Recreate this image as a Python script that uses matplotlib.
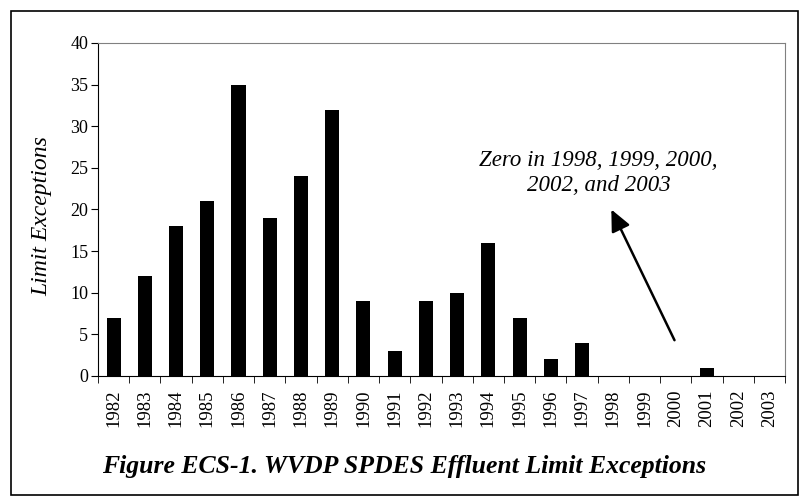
import numpy as np
import matplotlib
matplotlib.use("Agg")
import matplotlib.pyplot as plt
from matplotlib.patches import Rectangle

years = ['1982', '1983', '1984', '1985', '1986', '1987', '1988', '1989', '1990', '1991', '1992',
         '1993', '1994', '1995', '1996', '1997', '1998', '1999', '2000', '2001', '2002', '2003']
exceptions = [7, 12, 18, 21, 35, 19, 24, 32, 9, 3, 9, 10, 16, 7, 2, 4, 0, 0, 0, 1, 0, 0]
yticks = [0, 5, 10, 15, 20, 25, 30, 35, 40]

plt.rcParams['font.family'] = ['Liberation Serif', 'DejaVu Serif']

fig = plt.figure(figsize=(8.09, 5.04), dpi=100)
ax = fig.add_axes([98 / 809, 1 - 376 / 504, 687 / 809, 333 / 504])

x = np.arange(len(years))
ax.bar(x, exceptions, width=0.45, color='black')

ax.set_xlim(-0.5, len(years) - 0.5)
ax.set_ylim(0, 40)
ax.set_yticks(yticks)
ax.set_yticklabels([str(t) for t in yticks], fontsize=13)
# category labels at centers, tick marks between categories
ax.set_xticks(x)
ax.set_xticklabels(years, rotation=90, fontsize=13.5)
ax.tick_params(axis='x', length=0, pad=10)
ax.set_xticks(np.arange(-0.5, len(years)), minor=True)
ax.tick_params(axis='x', which='minor', length=5, direction='out')
ax.tick_params(axis='y', length=5, direction='out', pad=2)

for s in ['top', 'right']:
    ax.spines[s].set_color('#808080')

fig.text(42 / 809, 1 - 216 / 504, 'Limit Exceptions', rotation=90, ha='center', va='center',
         fontsize=17, style='italic')

ax.annotate('', xy=(15.9, 20.3), xytext=(18.0, 4.0),
            arrowprops=dict(arrowstyle='-|>,head_length=1.3,head_width=0.6', color='black', lw=1.8))
ax.text(15.53, 25.9, 'Zero in 1998, 1999, 2000,', ha='center', va='center',
        fontsize=16.5, style='italic')
ax.text(15.53, 22.9, '2002, and 2003', ha='center', va='center',
        fontsize=16.5, style='italic')

fig.text(0.5, 1 - 466 / 504, 'Figure ECS-1. WVDP SPDES Effluent Limit Exceptions',
         ha='center', va='center', fontsize=18.5, style='italic', weight='bold')

fig.patches.append(Rectangle((11 / 809, 1 - 495 / 504), 787 / 809, 484 / 504,
                             transform=fig.transFigure, fill=False, edgecolor='black', lw=1.2))

fig.savefig('out.png', dpi=100)
